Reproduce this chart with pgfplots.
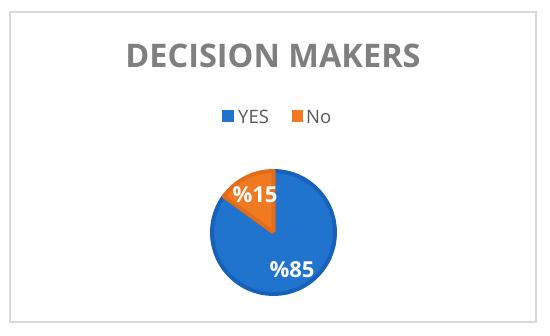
\documentclass[border=0pt]{standalone}
\usepackage{fontspec}
\setmainfont{Open Sans}
\usepackage{pgfplots}
\pgfplotsset{compat=1.18}
\usepgfplotslibrary{polar}
\definecolor{pieblue}{RGB}{32,116,206}
\definecolor{pieblueedge}{RGB}{22,98,186}
\definecolor{pieorange}{RGB}{240,122,34}
\definecolor{pieorangeedge}{RGB}{226,108,26}
\definecolor{titlegray}{RGB}{127,127,127}
\definecolor{leggray}{RGB}{89,89,89}
\definecolor{framegray}{RGB}{217,217,217}
\begin{document}
\begin{tikzpicture}[x=1pt,y=1pt]
\useasboundingbox (0,0) rectangle (550,-336);
\draw[framegray, line width=2pt] (10,-12) rectangle (536,-322);
\node[font=\bfseries\fontsize{32.5}{36}\selectfont, text=titlegray] at (273,-56) {DECISION MAKERS};
% legend
\fill[pieblue] (222,-110) rectangle (234,-122);
\node[anchor=west, font=\fontsize{18.5}{20}\selectfont, text=leggray, inner sep=0pt] at (238,-116.5) {YES};
\fill[pieorange] (292,-110) rectangle (303,-122);
\node[anchor=west, font=\fontsize{18.5}{20}\selectfont, text=leggray, inner sep=0pt] at (306,-116.5) {No};
\begin{polaraxis}[
  at={(273.5pt,-232.5pt)}, anchor=center,
  scale only axis, width=123pt, height=123pt,
  ymin=0, ymax=1, hide axis, clip=false,
]
% YES: 85% -> 306 degrees clockwise from 12 o'clock
\addplot[fill=pieblue, draw=pieblueedge, line width=4pt, line join=round] coordinates {
(0,0) (144,1) (150,1) (156,1) (162,1) (168,1) (174,1) (180,1) (186,1) (192,1) (198,1)
(204,1) (210,1) (216,1) (222,1) (228,1) (234,1) (240,1) (246,1) (252,1) (258,1)
(264,1) (270,1) (276,1) (282,1) (288,1) (294,1) (300,1) (306,1) (312,1) (318,1)
(324,1) (330,1) (336,1) (342,1) (348,1) (354,1) (360,1) (366,1) (372,1) (378,1)
(384,1) (390,1) (396,1) (402,1) (408,1) (414,1) (420,1) (426,1) (432,1) (438,1)
(444,1) (450,1) (0,0)
};
% No: 15% -> 54 degrees
\addplot[fill=pieorange, draw=pieorangeedge, line width=4pt, line join=round] coordinates {
(0,0) (90,1) (96,1) (102,1) (108,1) (114,1) (120,1) (126,1) (132,1) (138,1) (144,1) (0,0)
};
\end{polaraxis}
\node[font=\bfseries\fontsize{22}{24}\selectfont, text=white] at (255,-195) {\%15};
\node[font=\bfseries\fontsize{22}{24}\selectfont, text=white] at (292,-270) {\%85};
\end{tikzpicture}
\end{document}
